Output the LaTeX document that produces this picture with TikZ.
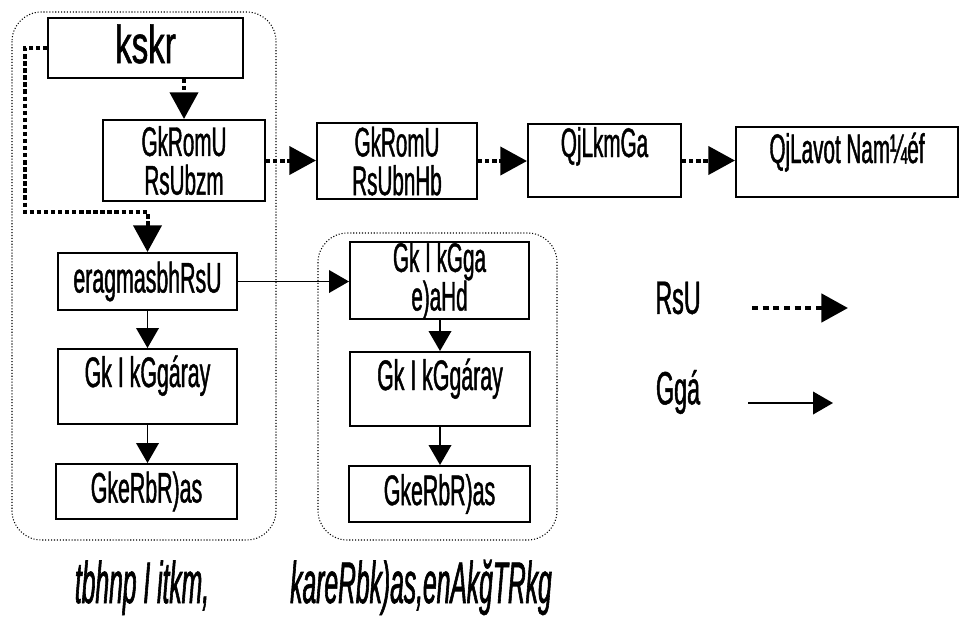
\documentclass[tikz,border=0pt]{standalone}
\usepackage{fontspec}
\setmainfont[FakeStretch=0.5, FakeBold=1]{Liberation Sans}
\newfontfamily\widefont[FakeStretch=0.62, FakeBold=1]{Liberation Sans}
\newfontfamily\capfont[FakeStretch=0.42, FakeBold=1]{Liberation Sans}
\usetikzlibrary{arrows.meta, positioning}
\tikzset{
  blk/.style={rectangle, draw, line width=1.5pt, inner sep=0pt,
              align=center},
  grp/.style={draw, line width=0.8pt, dash pattern=on 0.8pt off 1.4pt,
              rounded corners=22pt},
  flow/.style={-{Triangle[length=15pt, width=17pt]}, line width=1.2pt},
  ctrl/.style={-{Triangle[length=20pt, width=21pt]}, line width=3pt,
               dash pattern=on 3.3pt off 2pt},
  ctrlkey/.style={ctrl, line width=3.6pt, dash pattern=on 4.5pt off 3.5pt},
  tbig/.style={font=\widefont\fontsize{40}{44}\selectfont},
  ttwo/.style={font=\fontsize{31}{29}\selectfont},
  tone/.style={font=\fontsize{32}{29}\selectfont},
  tkey/.style={font=\fontsize{35}{38}\selectfont},
  tcap/.style={font=\capfont\fontsize{44}{48}\selectfont\itshape},
}

\begin{document}
\begin{tikzpicture}[x=0.75pt, y=-0.75pt]
  \useasboundingbox (0,0) rectangle (959,622);

  % dotted groups
  \draw[grp] (12,12) rectangle (276,540);
  \draw[grp] (318,233) rectangle (557,540);

  % top row
  \node[blk, tbig, text height=33.75pt, text depth=11.25pt, minimum width=146pt] (top)
    at (145.5,48) {kskr};
  \node[blk, ttwo, minimum width=121.5pt, minimum height=60.75pt] (src) at (184,160.5)
    {GkRomU\\RsUbzm};
  \node[blk, ttwo, minimum width=120pt, minimum height=57pt] (mid) at (397,161)
    {GkRomU\\RsUbnHb};
  \node[blk, ttwo, text height=24.75pt, text depth=30pt, minimum width=114.75pt] (qa)
    at (604.5,160.5) {QjLkmGa};
  \node[blk, ttwo, text height=27pt, text depth=25.5pt, minimum width=166.5pt] (qb)
    at (847,162) {QjLavot Nam¼éf};

  % left column
  \node[blk, tone, minimum width=134.25pt, minimum height=42.75pt] (seg) at (147.5,281.5)
    {eragmasbhRsU};
  \node[blk, tone, text height=28.5pt, text depth=27.75pt, minimum width=134.25pt] (lnk)
    at (147.5,386.5) {Gk I kGgáray};
  \node[blk, tone, minimum width=135.75pt, minimum height=41.25pt] (out) at (146.5,491.5)
    {GkeRbR)as};

  % right column
  \node[blk, ttwo, minimum width=134.25pt, minimum height=54.75pt] (rin) at (439.5,280.5)
    {Gk I kGga\\e)aHd};
  \node[blk, tone, text height=28.5pt, text depth=27pt, minimum width=135pt] (rlnk)
    at (440,389) {Gk I kGgáray};
  \node[blk, tone, minimum width=135.75pt, minimum height=42pt] (rout) at (439.5,494)
    {GkeRbR)as};

  % dotted connectors
  \coordinate (turn) at (25,212);
  \draw[ctrl] (top.south -| src.north) -- (src.north);
  \draw[ctrl] (top.west) -| (turn) -| (seg.north);
  \draw[ctrl] (src.east) -- (src.east -| mid.west);
  \draw[ctrl] (mid.east) -- (mid.east -| qa.west);
  \draw[ctrl] (qa.east) -- (qa.east -| qb.west);

  % solid connectors
  \draw[flow] (seg.south) -- (lnk.north);
  \draw[flow] (lnk.south) -- (lnk.south |- out.north);
  \draw[flow] (seg.east) -- (seg.east -| rin.west);
  \draw[flow] (rin.south -| rlnk.north) -- (rlnk.north);
  \draw[flow] (rlnk.south) -- (rlnk.south |- rout.north);

  % legend
  \node[tkey] (lgctrl) at (678,298) {RsU};
  \node[tkey] (lgflow) at (678,392) {Ggá};
  \coordinate (lc1) at (752,308);
  \coordinate (lc2) at (848,308);
  \coordinate (lf1) at (748,403);
  \coordinate (lf2) at (833,403);
  \draw[ctrlkey] (lc1) -- (lc2);
  \draw[flow] (lf1) -- (lf2);

  % captions
  \node[tcap, anchor=base] (capl) at (142,603) {tbhnp I itkm,};
  \node[tcap, anchor=base] (capr) at (421,603) {kareRbk)as,enAkğTRkg};
\end{tikzpicture}
\end{document}
